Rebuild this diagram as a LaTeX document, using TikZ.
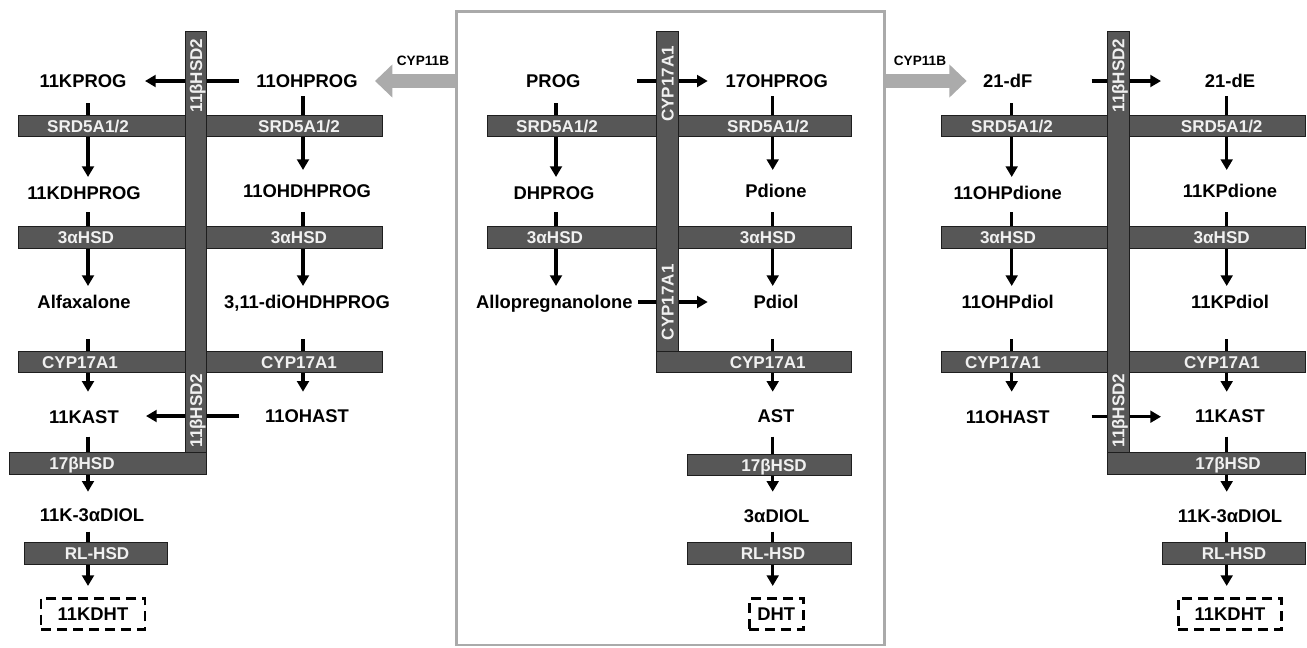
\documentclass[tikz,border=0pt]{standalone}
\usepackage{fontspec}
\setmainfont{Liberation Sans}
\usepackage{tikz}
\usetikzlibrary{arrows.meta,calc}
\definecolor{barGray}{HTML}{575757}
\definecolor{barEdge}{HTML}{1E1E1E}
\definecolor{boxGray}{HTML}{AAAAAA}
\definecolor{cypGray}{HTML}{ABABAB}
\tikzset{
myMetab/.style={
	inner sep=0pt, text=black,
	text height=9.9pt, text depth=0pt,
	font=\fontsize{13.8}{16}\selectfont\bfseries
}
, myFinal/.style={
	myMetab, draw, line width=2.2pt,
	dash pattern=on 7.5pt off 4.5pt,
	minimum height=23.5pt
}
, myEnzBar/.style={fill=barGray,draw=barEdge,line width=0.7pt}
, myEnz/.style={
	inner sep=0pt, text=white!94!black,
	text height=9.2pt, text depth=0pt,
	font=\fontsize{12.8}{15}\selectfont\bfseries
}
, myEnzV/.style={myEnz,rotate=90}
% links
, myRxn/.style={-{Triangle[length=8pt,width=8.8pt]},line width=2.3pt,
	shorten <=16.5pt,shorten >=12pt}
, myCyp/.style={-{Triangle[length=13pt,width=24pt]},draw=cypGray,
	line width=11pt}
, myCypText/.style={inner sep=0pt,font=\fontsize{10.2}{12}\selectfont\bfseries}
, myCore/.style={draw=boxGray,line width=2.2pt,inner sep=0pt}
}

\begin{document}
\begin{tikzpicture}[x=0.75pt,y=-0.75pt]
	\useasboundingbox (0,0) rectangle (1307,647);
	% frame
	\node[myCore, minimum width=321.2pt, minimum height=475pt] (core) at (670.8,328.3) {};

	% columns
	\coordinate (colA) at (88,0);
	\coordinate (colB) at (303,0);
	\coordinate (colC) at (556,0);
	\coordinate (colD) at (772.7,0);
	\coordinate (colE) at (1011.7,0);
	\coordinate (colF) at (1226.7,0);

	% nodes left
	\node[myMetab] (kprog) at (83,81) {11KPROG};
	\node[myMetab] (ohprog) at (307,81) {11OHPROG};
	\node[myMetab] (kdhprog) at (84,193) {11KDHPROG};
	\node[myMetab] (ohdhprog) at (307,191) {11OHDHPROG};
	\node[myMetab] (alfa) at (84,302) {Alfaxalone};
	\node[myMetab] (diohdhprog) at (307,302) {3,11-diOHDHPROG};
	\node[myMetab] (kastL) at (84,416.7) {11KAST};
	\node[myMetab] (ohastL) at (307,416) {11OHAST};
	\node[myMetab] (kdiolL) at (92,515) {11K-3αDIOL};
	\node[myFinal, minimum width=78pt] (kdhtL) at (93,613.7) {11KDHT};
	% nodes middle
	\node[myMetab] (prog) at (553.3,81) {PROG};
	\node[myMetab] (ohprogB) at (776.7,81) {17OHPROG};
	\node[myMetab] (dhprog) at (554,193) {DHPROG};
	\node[myMetab] (pdione) at (776,191) {Pdione};
	\node[myMetab] (allo) at (554.3,302) {Allopregnanolone};
	\node[myMetab] (pdiol) at (776,302) {Pdiol};
	\node[myMetab] (ast) at (776,415.7) {AST};
	\node[myMetab] (diol) at (776.7,515.7) {3αDIOL};
	\node[myFinal, minimum width=40.5pt] (dht) at (776.3,614) {DHT};
	% nodes right
	\node[myMetab] (dF) at (1007.7,81) {21-dF};
	\node[myMetab] (dE) at (1230,81) {21-dE};
	\node[myMetab] (ohpdione) at (1007.7,193) {11OHPdione};
	\node[myMetab] (kpdione) at (1230,191) {11KPdione};
	\node[myMetab] (ohpdiol) at (1007.7,302) {11OHPdiol};
	\node[myMetab] (kpdiol) at (1230,302) {11KPdiol};
	\node[myMetab] (ohastR) at (1007.7,416.7) {11OHAST};
	\node[myMetab] (kastR) at (1230,416) {11KAST};
	\node[myMetab] (kdiolR) at (1230,516) {11K-3αDIOL};
	\node[myFinal, minimum width=77.5pt] (kdhtR) at (1230,613.7) {11KDHT};

	% CYP11B
	\draw[myCyp, shorten >=51pt] (core.west |- ohprog) -- (ohprog.center);
	\draw[myCyp, shorten >=30.75pt] (core.east |- dF) -- (dF.center);
	\node[myCypText] (cypL) at (423,61) {CYP11B};
	\node[myCypText] (cypR) at (920,61) {CYP11B};

	% links left
	\draw[myRxn] (kprog -| colA) -- (kdhprog -| colA);
	\draw[myRxn, shorten <=14.25pt] (kdhprog -| colA) -- (alfa -| colA);
	\draw[myRxn, shorten <=27.75pt, shorten >=18.75pt] (alfa -| colA) -- (kastL -| colA);
	\draw[myRxn, shorten <=15pt, shorten >=17.5pt] (kastL -| colA) -- (kdiolL -| colA);
	\draw[myRxn, shorten <=12.5pt, shorten >=20.8pt] (kdiolL -| colA) -- (kdhtL -| colA);
	\draw[myRxn, shorten <=11.25pt, shorten >=15.75pt] (ohprog -| colB) -- (ohdhprog -| colB);
	\draw[myRxn, shorten <=15.75pt] (ohdhprog -| colB) -- (diohdhprog -| colB);
	\draw[myRxn, shorten <=27.75pt, shorten >=18.2pt] (diohdhprog -| colB) -- (ohastL -| colB);
	\draw[myRxn, shorten <=51pt, shorten >=46.5pt] (ohprog.center) -- (kprog.center);
	\draw[myRxn, shorten <=51pt, shorten >=46.5pt] (ohastL.center) -- (ohastL.center -| kastL.center);
	% links middle
	\draw[myRxn] (prog -| colC) -- (dhprog -| colC);
	\draw[myRxn, shorten <=14.25pt] (dhprog -| colC) -- (allo -| colC);
	\draw[myRxn, shorten <=11.25pt, shorten >=15.75pt] (ohprogB -| colD) -- (pdione -| colD);
	\draw[myRxn, shorten <=15.75pt] (pdione -| colD) -- (pdiol -| colD);
	\draw[myRxn, shorten <=27.75pt, shorten >=18pt] (pdiol -| colD) -- (ast -| colD);
	\draw[myRxn, shorten <=15.75pt, shorten >=18pt] (ast -| colD) -- (diol -| colD);
	\draw[myRxn, shorten <=12pt, shorten >=21pt] (diol -| colD) -- (dht -| colD);
	\draw[myRxn, shorten <=63pt, shorten >=51.75pt] (prog.center) -- (ohprogB.center);
	\draw[myRxn, shorten <=62.8pt, shorten >=51.2pt] (allo.center) -- (pdiol.center);
	% links right
	\draw[myRxn] (dF -| colE) -- (ohpdione -| colE);
	\draw[myRxn, shorten <=14.25pt] (ohpdione -| colE) -- (ohpdiol -| colE);
	\draw[myRxn, shorten <=27.75pt, shorten >=18.75pt] (ohpdiol -| colE) -- (ohastR -| colE);
	\draw[myRxn, shorten <=11.25pt, shorten >=15.75pt] (dE -| colF) -- (kpdione -| colF);
	\draw[myRxn, shorten <=15.75pt] (kpdione -| colF) -- (kpdiol -| colF);
	\draw[myRxn, shorten <=27.75pt, shorten >=18.2pt] (kpdiol -| colF) -- (kastR -| colF);
	\draw[myRxn, shorten <=15.5pt, shorten >=18.2pt] (kastR -| colF) -- (kdiolR -| colF);
	\draw[myRxn, shorten <=11.8pt, shorten >=20.8pt] (kdiolR -| colF) -- (kdhtR -| colF);
	\draw[myRxn, shorten <=63pt, shorten >=51.75pt] (dF.center) -- (dE.center);
	\draw[myRxn, shorten <=63pt, shorten >=51.75pt] (ohastR.center) -- (ohastR.center -| kastR.center);

	% enzyme bars left
	\draw[myEnzBar] (18.3,115) rectangle (382.7,136);
	\draw[myEnzBar] (18.3,226.7) rectangle (382.7,248.3);
	\draw[myEnzBar] (18.3,351.7) rectangle (382.7,372.7);
	\draw[myEnzBar] (185,31.7) rectangle (206.7,452.7);
	\draw[myEnzBar] (9.3,452.7) rectangle (206.7,474.3);
	\draw[myEnzBar] (24.3,542.7) rectangle (167.7,564);
	% enzyme bars middle
	\draw[myEnzBar] (487.3,115) rectangle (851,136);
	\draw[myEnzBar] (487.3,226.7) rectangle (851,248.3);
	\draw[myEnzBar] (656.7,31.7) rectangle (678.3,351.7);
	\draw[myEnzBar] (656.7,351.7) rectangle (851,372.7);
	\draw[myEnzBar] (687.3,454.3) rectangle (851,475.7);
	\draw[myEnzBar] (687.3,542.7) rectangle (851,564);
	% enzyme bars right
	\draw[myEnzBar] (941,115) rectangle (1305,136);
	\draw[myEnzBar] (941,226.7) rectangle (1305,248.3);
	\draw[myEnzBar] (941,351.7) rectangle (1305,372.7);
	\draw[myEnzBar] (1107.3,31.7) rectangle (1129.3,452.7);
	\draw[myEnzBar] (1107.3,452.7) rectangle (1305,474.3);
	\draw[myEnzBar] (1162,542.7) rectangle (1305,564);

	% enzyme names left
	\node[myEnz] (srdA) at (88,126) {SRD5A1/2};
	\node[myEnz] (srdB) at (299,126) {SRD5A1/2};
	\node[myEnz] (hsdA) at (86,237.5) {3αHSD};
	\node[myEnz] (hsdB) at (299,237.5) {3αHSD};
	\node[myEnz] (cypA) at (80,362) {CYP17A1};
	\node[myEnz] (cypB) at (299,362) {CYP17A1};
	\node[myEnz] (bhsdA) at (82,463.5) {17βHSD};
	\node[myEnz] (rlA) at (97,553.3) {RL-HSD};
	\node[myEnzV] (hsdTopA) at (196,75.5) {11βHSD2};
	\node[myEnzV] (hsdBotA) at (196,410.5) {11βHSD2};
	% enzyme names middle
	\node[myEnz] (srdC) at (557,126) {SRD5A1/2};
	\node[myEnz] (srdD) at (768,126) {SRD5A1/2};
	\node[myEnz] (hsdC) at (555,237.5) {3αHSD};
	\node[myEnz] (hsdD) at (768,237.5) {3αHSD};
	\node[myEnzV] (cypTopC) at (667.5,84) {CYP17A1};
	\node[myEnzV] (cypBotC) at (667.5,302.3) {CYP17A1};
	\node[myEnz] (cypD) at (767.7,362) {CYP17A1};
	\node[myEnz] (bhsdD) at (774,465) {17βHSD};
	\node[myEnz] (rlD) at (773,553.3) {RL-HSD};
	% enzyme names right
	\node[myEnz] (srdE) at (1012,126) {SRD5A1/2};
	\node[myEnz] (srdF) at (1221.7,126) {SRD5A1/2};
	\node[myEnz] (hsdE) at (1008,237.5) {3αHSD};
	\node[myEnz] (hsdF) at (1221.7,237.5) {3αHSD};
	\node[myEnz] (cypE) at (1003,362) {CYP17A1};
	\node[myEnz] (cypF) at (1222,362) {CYP17A1};
	\node[myEnz] (bhsdF) at (1228,463.5) {17βHSD};
	\node[myEnz] (rlF) at (1234,553.3) {RL-HSD};
	\node[myEnzV] (hsdTopE) at (1118.3,75.5) {11βHSD2};
	\node[myEnzV] (hsdBotE) at (1118.3,410.5) {11βHSD2};
\end{tikzpicture}
\end{document}
